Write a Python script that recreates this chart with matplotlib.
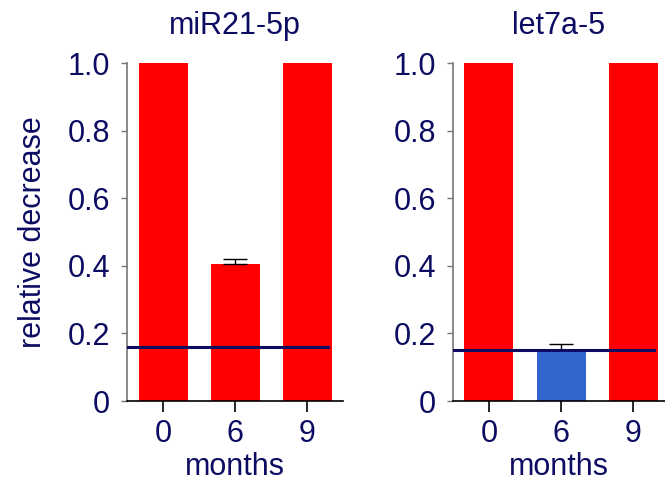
import numpy as np
import matplotlib; matplotlib.use("Agg")
import matplotlib.pyplot as plt

plt.rcParams["font.family"] = ["Liberation Sans", "DejaVu Sans"]

MONTHS = ["0", "6", "9"]
MIR21 = [1.0, 0.405, 1.0]
MIR21_ERR = [0.0, 0.015, 0.0]
LET7A = [1.0, 0.152, 1.0]
LET7A_ERR = [0.0, 0.016, 0.0]
THRESH = [0.16, 0.151]
YTICKS = [0, 0.2, 0.4, 0.6, 0.8, 1.0]
YLABELS = ["0", "0.2", "0.4", "0.6", "0.8", "1.0"]

NAVY = "#0c0c62"
RED = "#ff0000"
BLUE = "#3366cc"
FS = 22

fig = plt.figure(figsize=(6.65, 4.82), dpi=100)
ax1 = fig.add_axes([0.191, 0.168, 0.325, 0.701])
ax2 = fig.add_axes([0.681, 0.168, 0.319, 0.701])

panels = [(ax1, "miR21-5p", MIR21, MIR21_ERR, [RED, RED, RED], THRESH[0], 2.5),
          (ax2, "let7a-5", LET7A, LET7A_ERR, [RED, BLUE, RED], THRESH[1], 2.44)]

for ax, title, vals, errs, cols, th, xr in panels:
    x = np.arange(len(MONTHS))
    ax.bar(x, vals, 0.68, color=cols, zorder=2)
    for xi, v, e in zip(x, vals, errs):
        if e > 0:
            ax.errorbar(xi, v, yerr=[[0], [e]], fmt="none", ecolor="black",
                        elinewidth=1, capsize=8.5, capthick=1, zorder=3)
    # reference level line
    ax.axhline(th, xmin=0, xmax=(2.29 + 0.5) / (xr + 0.5), color=NAVY, lw=2.2, zorder=4)
    ax.set_xlim(-0.5, xr)
    ax.set_ylim(0, 1.0)
    ax.set_xticks(x)
    ax.set_xticklabels(MONTHS)
    ax.set_yticks(YTICKS)
    ax.set_yticklabels(YLABELS)
    for s in ("top", "right"):
        ax.spines[s].set_visible(False)
    ax.spines["left"].set_color("#777777")
    ax.spines["left"].set_linewidth(1.2)
    ax.spines["bottom"].set_color("black")
    ax.spines["bottom"].set_linewidth(1.2)
    ax.tick_params(axis="y", length=4, width=1, color="#777777", labelsize=FS,
                   labelcolor=NAVY, pad=8)
    ax.tick_params(axis="x", length=8, width=1.2, color="black", labelsize=FS,
                   labelcolor=NAVY, pad=5)
    ax.set_xlabel("months", fontsize=FS, color=NAVY, labelpad=2)
    ax.set_title(title, fontsize=FS, color=NAVY, pad=21)

ax1.set_ylabel("relative decrease", fontsize=FS, color=NAVY, labelpad=14)

fig.savefig("out.png", dpi=100)
